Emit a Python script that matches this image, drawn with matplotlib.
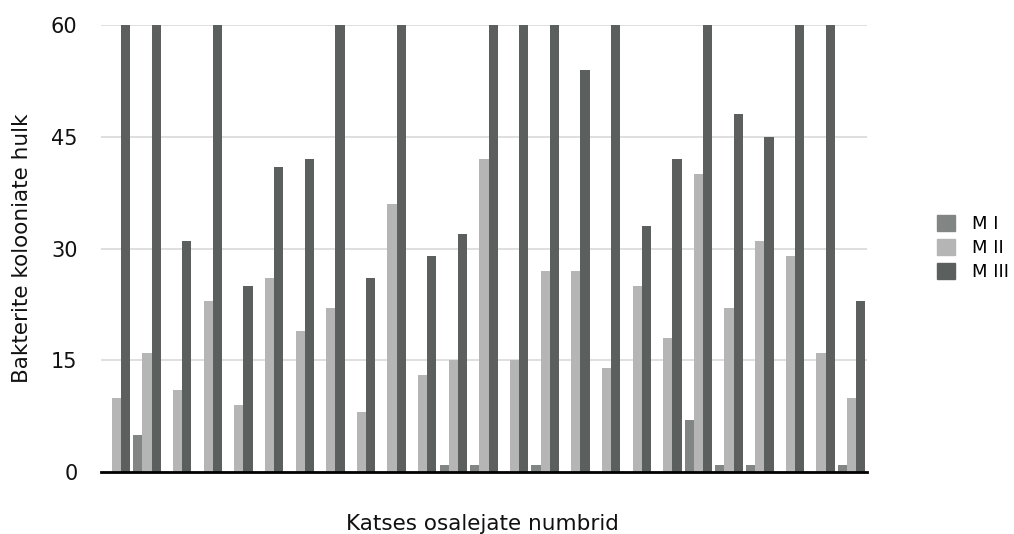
import numpy as np
import matplotlib
matplotlib.use("Agg")
import matplotlib.pyplot as plt
from matplotlib.patches import Patch

plt.rcParams['font.family'] = ['DejaVu Sans']

# andmed: bakterite kolooniate arv 25 katses osaleja kohta
participants = list(range(1, 26))
m1 = [0, 5, 0, 0, 0, 0, 0, 0, 0, 0, 0, 1, 1, 0, 1, 0, 0, 0, 0, 7, 1, 1, 0, 0, 1]
m2 = [10, 16, 11, 23, 9, 26, 19, 22, 8, 36, 13, 15, 42, 15, 27, 27, 14, 25, 18, 40, 22, 31, 29, 16, 10]
m3 = [60, 60, 31, 60, 25, 41, 42, 60, 26, 60, 29, 32, 60, 60, 60, 54, 60, 33, 42, 60, 48, 45, 60, 60, 23]
series_names = ["M I", "M II", "M III"]
colors = ["#818684", "#b5b5b5", "#5b605f"]
yticks = [0, 15, 30, 45, 60]

fig = plt.figure(figsize=(10.14, 5.34), dpi=100)
ax = fig.add_axes([0.0996, 0.116, 0.7554, 0.837])

x = np.arange(len(participants))
w = 0.30
for i, (vals, c) in enumerate(zip([m1, m2, m3], colors)):
    ax.bar(x + (i - 1) * w, vals, width=w, color=c, zorder=3)

ax.set_xlim(-0.5, len(participants) - 0.5)
ax.set_ylim(0, 60)
ax.set_yticks(yticks)
ax.set_xticks([])
ax.grid(axis='y', color='#d9d9d9', linewidth=1.2, zorder=0)
ax.tick_params(axis='y', length=0, pad=17, labelsize=15, labelcolor='#111111')
for s in ['top', 'right', 'left']:
    ax.spines[s].set_visible(False)
ax.spines['bottom'].set_color('black')
ax.spines['bottom'].set_linewidth(2)
ax.spines['bottom'].set_zorder(4)

fig.text(0.022, 0.536, "Bakterite kolooniate hulk", rotation=90,
         ha='center', va='center', fontsize=15.5, color='#111111')
fig.text(0.476, 0.019, "Katses osalejate numbrid",
         ha='center', va='center', fontsize=15.5, color='#111111')

handles = [Patch(color=c, label=n) for c, n in zip(colors, series_names)]
fig.legend(handles=handles, loc='upper left', bbox_to_anchor=(0.924, 0.597),
           frameon=False, fontsize=13, handlelength=1.0, handleheight=1.0,
           handletextpad=0.95, labelspacing=0.3, borderpad=0, borderaxespad=0)

fig.savefig("out.png", dpi=100)
